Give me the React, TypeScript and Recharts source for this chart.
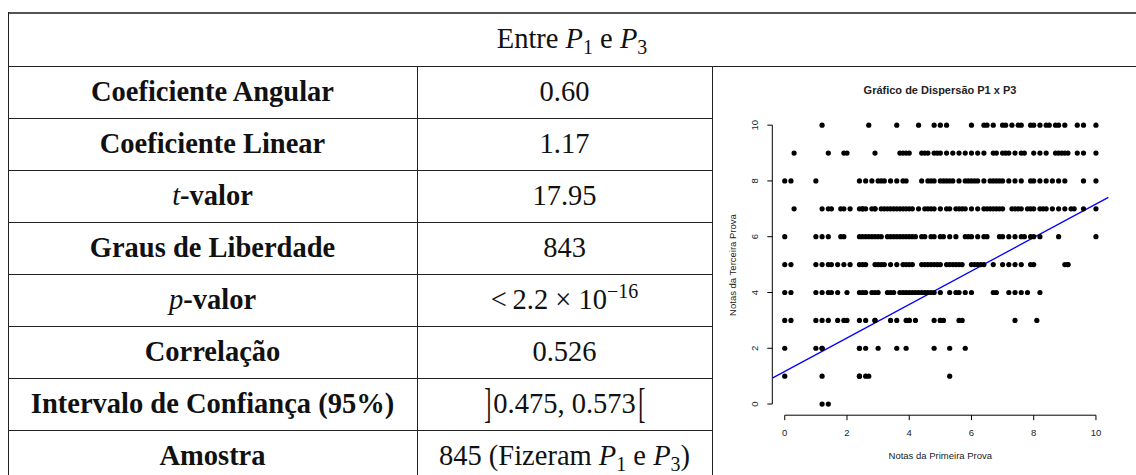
import React from "react";
import { ScatterChart, Scatter, XAxis, YAxis, ReferenceLine } from "recharts";

// ---------- Table data ----------
const headerText = "Entre P1 e P3";
const rowLabels = [
  "Coeficiente Angular",
  "Coeficiente Linear",
  "t-valor",
  "Graus de Liberdade",
  "p-valor",
  "Correlação",
  "Intervalo de Confiança (95%)",
  "Amostra",
];
const rowValues = [
  "0.60",
  "1.17",
  "17.95",
  "843",
  "< 2.2 × 10^-16",
  "0.526",
  "]0.475, 0.573[",
  "845 (Fizeram P1 e P3)",
];

// ---------- Regression ----------
const slope = 0.6;
const intercept = 1.17;

// ---------- Scatter data (P1 grades for each P3 grade level) ----------
const p3Levels = [10, 9, 8, 7, 6, 5, 4, 3, 2, 1, 0];
const p1At10 = [1.2, 2.7, 3.6, 4.3, 4.8, 5.0, 5.2, 6.0, 6.4, 6.5, 6.7, 7.0, 7.1, 7.3, 7.5, 7.6, 7.9, 8.0, 8.2, 8.4, 8.5, 8.7, 8.8, 9.0, 9.4, 9.6, 10];
const p1At9 = [0.3, 1.4, 1.9, 2.0, 2.9, 3.7, 3.8, 3.9, 4.0, 4.4, 4.5, 4.6, 4.8, 4.9, 5.0, 5.2, 5.4, 5.6, 5.8, 6.0, 6.2, 6.4, 6.7, 6.8, 7.0, 7.1, 7.2, 7.4, 7.6, 7.7, 8.0, 8.2, 8.4, 8.7, 8.8, 8.9, 9.0, 9.1, 9.4, 9.6, 10];
const p1At8 = [0, 0.2, 1.0, 2.4, 2.6, 2.8, 3.0, 3.1, 3.2, 3.4, 3.6, 3.8, 3.9, 4.4, 4.6, 4.7, 4.8, 5.0, 5.1, 5.2, 5.3, 5.4, 5.6, 5.8, 5.9, 6.0, 6.1, 6.2, 6.4, 6.6, 6.7, 6.8, 6.9, 7.0, 7.2, 7.4, 7.6, 7.9, 8.0, 8.2, 8.4, 8.6, 8.8, 9.0, 9.6, 10];
const p1At7 = [0.3, 1.2, 1.4, 1.5, 1.8, 1.9, 2.1, 2.4, 2.5, 2.5, 2.6, 2.8, 2.9, 2.9, 3.1, 3.2, 3.3, 3.4, 3.5, 3.6, 3.7, 3.8, 3.9, 4.0, 4.1, 4.3, 4.5, 4.6, 4.7, 4.8, 5.0, 5.2, 5.3, 5.5, 5.6, 5.7, 5.8, 6.0, 6.2, 6.4, 6.5, 6.6, 6.7, 6.8, 6.9, 7.0, 7.3, 7.4, 7.5, 7.6, 7.8, 7.9, 8.0, 8.2, 8.3, 8.4, 8.6, 8.8, 9.0, 9.2, 9.3, 9.6, 10];
const p1At6 = [0, 1.0, 1.2, 1.4, 1.8, 1.9, 2.4, 2.5, 2.6, 2.7, 2.8, 2.9, 3.0, 3.1, 3.3, 3.4, 3.5, 3.6, 3.7, 3.8, 3.9, 4.0, 4.1, 4.2, 4.4, 4.5, 4.7, 4.8, 5.0, 5.1, 5.3, 5.5, 5.8, 5.9, 6.0, 6.2, 6.4, 6.5, 6.9, 7.0, 7.2, 7.4, 7.6, 7.7, 7.9, 8.0, 8.2, 8.8, 10];
const p1At5 = [0, 0.2, 1.0, 1.2, 1.4, 1.5, 1.7, 1.9, 2.1, 2.4, 2.5, 2.6, 2.9, 3.0, 3.1, 3.2, 3.4, 3.6, 3.8, 3.9, 4.0, 4.1, 4.4, 4.5, 4.6, 4.7, 4.8, 4.9, 5.0, 5.2, 5.3, 5.4, 5.5, 5.6, 5.7, 6.0, 6.1, 6.2, 6.3, 6.4, 6.7, 7.0, 7.2, 7.4, 7.6, 7.9, 8.0, 9.0, 9.1, 9.1];
const p1At4 = [0, 0.2, 1.0, 1.2, 1.4, 1.5, 1.7, 2.0, 2.4, 2.5, 2.6, 2.8, 2.9, 3.0, 3.3, 3.4, 3.5, 3.7, 3.8, 3.9, 4.0, 4.1, 4.2, 4.3, 4.4, 4.5, 4.6, 4.7, 4.8, 5.0, 5.3, 5.5, 5.6, 5.8, 6.0, 6.7, 6.8, 7.2, 7.4, 7.6, 7.8, 8.2];
const p1At3 = [0, 0.2, 1.0, 1.2, 1.4, 1.7, 1.9, 2.0, 2.4, 2.6, 2.9, 2.9, 3.4, 3.6, 3.9, 4.0, 4.0, 4.2, 4.8, 5.0, 5.0, 5.1, 5.6, 5.7, 7.4, 8.1];
const p1At2 = [0, 1.0, 1.2, 1.2, 2.4, 2.4, 2.6, 3.0, 3.6, 3.9, 4.8, 5.3, 5.8];
const p1At1 = [0, 1.2, 2.4, 2.4, 2.6, 2.7, 5.3];
const p1At0 = [1.2, 1.4];
const p1ByLevel = [p1At10, p1At9, p1At8, p1At7, p1At6, p1At5, p1At4, p1At3, p1At2, p1At1, p1At0];

const axisTicks = [0, 2, 4, 6, 8, 10];
const axisDomain: [number, number] = [-0.4, 10.4];

const chartTitle = "Gráfico de Dispersão P1 x P3";
const xTitle = "Notas da Primeira Prova";
const yTitle = "Notas da Terceira Prova";

const points = p3Levels.flatMap((lvl, i) => p1ByLevel[i].map((x) => ({ x, y: lvl })));

// ---------- Layout ----------
const serif = "'Liberation Serif', 'Times New Roman', serif";
const sans = "'Liberation Sans', Arial, sans-serif";
const tableLeft = 8;
const tableTop = 12;
const headerBottom = 66;
const rowH = 52;
const col1 = 417;
const col2 = 712;
const pageW = 1136;
const pageH = 475;
const fs = 28.5;
const lineColor = "#222";

const Sub = ({ c }: { c: string }) => (
  <span style={{ fontSize: "0.7em", position: "relative", top: "0.3em" }}>{c}</span>
);
const Sup = ({ c }: { c: string }) => (
  <span style={{ fontSize: "0.7em", position: "relative", top: "-0.55em" }}>{c}</span>
);

function renderHeader() {
  const parts = headerText.split(" "); // Entre P1 e P3
  return (
    <span>
      {parts[0] + " "}
      <i>P</i>
      <Sub c={parts[1].slice(1)} />
      {" " + parts[2] + " "}
      <i>P</i>
      <Sub c={parts[3].slice(1)} />
    </span>
  );
}

function renderLabel(i: number) {
  const s = rowLabels[i];
  if (s.startsWith("t-") || s.startsWith("p-")) {
    return (
      <span>
        <i style={{ fontWeight: 400 }}>{s[0]}</i>
        {s.slice(1)}
      </span>
    );
  }
  return <span>{s}</span>;
}

function renderValue(i: number) {
  const s = rowValues[i];
  if (s.includes("^")) {
    const [base, exp] = s.split("^");
    return (
      <span>
        {base.replace("< ", "<\u2009")}
        <Sup c={exp.replace("-", "\u2212")} />
      </span>
    );
  }
  if (s.startsWith("]")) {
    const inner = s.slice(1, -1);
    const br = (c: string) => (
      <span
        style={{
          display: "inline-block",
          transform: "scale(0.75, 1.45)",
          fontWeight: 300,
          margin: "0 1px",
        }}
      >
        {c}
      </span>
    );
    return (
      <span>
        {br("]")}
        {inner}
        {br("[")}
      </span>
    );
  }
  if (s.includes("Fizeram")) {
    return (
      <span>
        {"845 (Fizeram "}
        <i>P</i>
        <Sub c="1" />
        {" e "}
        <i>P</i>
        <Sub c="3" />
        {")"}
      </span>
    );
  }
  return <span>{s}</span>;
}

const hLine = (y: number, x1: number, x2: number, key: string, color = lineColor, h = 1) => (
  <div
    key={key}
    style={{ position: "absolute", left: x1, top: y, width: x2 - x1, height: h, background: color }}
  />
);
const vLine = (x: number, y1: number, y2: number, key: string) => (
  <div
    key={key}
    style={{ position: "absolute", left: x, top: y1, width: 1, height: y2 - y1, background: lineColor }}
  />
);

const cellStyle = (left: number, top: number, width: number, height: number, bold: boolean): React.CSSProperties => ({
  position: "absolute",
  left,
  top,
  width,
  height,
  display: "flex",
  alignItems: "center",
  justifyContent: "center",
  whiteSpace: "pre",
  fontFamily: serif,
  fontSize: fs,
  fontWeight: bold ? 700 : 400,
  color: "#111",
  lineHeight: 1,
});

// ---------- Chart geometry ----------
const chartLeft = col2;
const chartTop = headerBottom;
const chartW = pageW - col2;
const chartH = pageH - headerBottom;

const YTick = (props: any) => {
  const { x, y, payload } = props;
  return (
    <text
      x={x}
      y={y}
      transform={`rotate(-90, ${x}, ${y})`}
      textAnchor="middle"
      fontFamily={sans}
      fontSize={9.5}
      fill="#222"
    >
      {payload.value}
    </text>
  );
};

const Dot = (props: any) => <circle cx={props.cx} cy={props.cy} r={2.6} fill="#000" />;

export default function App() {
  const lines: React.ReactNode[] = [];
  lines.push(hLine(tableTop, tableLeft, pageW, "top", "#555", 1.5));
  lines.push(hLine(headerBottom, tableLeft, pageW, "hdr"));
  for (let i = 1; i < rowLabels.length; i++) {
    lines.push(hLine(headerBottom + i * rowH, tableLeft, col2, "r" + i));
  }
  lines.push(vLine(tableLeft, tableTop, pageH, "left"));
  lines.push(vLine(col1, headerBottom, pageH, "c1"));
  lines.push(vLine(col2, headerBottom, pageH, "c2"));

  const x0 = axisDomain[0];
  const x1 = axisDomain[1];

  return (
    <div
      style={{
        position: "fixed",
        left: 0,
        top: 0,
        width: pageW,
        height: pageH,
        overflow: "hidden",
        background: "#fff",
      }}
    >
      {lines}
      <div style={cellStyle(tableLeft, tableTop, pageW - tableLeft, headerBottom - tableTop, false)}>
        {renderHeader()}
      </div>
      {rowLabels.map((_, i) => (
        <div key={"l" + i} style={cellStyle(tableLeft, headerBottom + i * rowH, col1 - tableLeft, rowH, true)}>
          {renderLabel(i)}
        </div>
      ))}
      {rowValues.map((_, i) => (
        <div key={"v" + i} style={cellStyle(col1, headerBottom + i * rowH, col2 - col1, rowH, false)}>
          {renderValue(i)}
        </div>
      ))}

      {/* Scatter plot */}
      <div style={{ position: "absolute", left: chartLeft, top: chartTop, width: chartW, height: chartH }}>
        <ScatterChart
          width={chartW}
          height={chartH}
          margin={{ top: 48, right: 27.6, bottom: 29.8, left: 30.3 }}
        >
          <XAxis
            type="number"
            dataKey="x"
            domain={axisDomain}
            ticks={axisTicks}
            allowDataOverflow
            axisLine={false}
            tickLine={{ stroke: "#000" }}
            stroke="#000"
            tickSize={5}
            tickMargin={9}
            height={30}
            tick={{ fontFamily: sans, fontSize: 9.5, fill: "#222" }}
            interval={0}
          />
          <YAxis
            type="number"
            dataKey="y"
            domain={axisDomain}
            ticks={axisTicks}
            allowDataOverflow
            axisLine={false}
            tickLine={{ stroke: "#000" }}
            stroke="#000"
            tickSize={5}
            tickMargin={9}
            width={30}
            tick={<YTick />}
            interval={0}
          />
          <Scatter data={points} shape={<Dot />} isAnimationActive={false} />
          <ReferenceLine
            segment={[
              { x: axisTicks[0], y: x0 },
              { x: axisTicks[axisTicks.length - 1], y: x0 },
            ]}
            stroke="#000"
            strokeWidth={1}
            ifOverflow="visible"
          />
          <ReferenceLine
            segment={[
              { x: x0, y: axisTicks[0] },
              { x: x0, y: axisTicks[axisTicks.length - 1] },
            ]}
            stroke="#000"
            strokeWidth={1}
            ifOverflow="visible"
          />
          <ReferenceLine
            segment={[
              { x: x0, y: intercept + slope * x0 },
              { x: x1, y: intercept + slope * x1 },
            ]}
            stroke="#0000ff"
            strokeWidth={1.3}
            ifOverflow="visible"
          />
        </ScatterChart>
        <div
          style={{
            position: "absolute",
            left: 228,
            top: 24,
            transform: "translate(-50%, -50%)",
            whiteSpace: "nowrap",
            fontFamily: sans,
            fontWeight: 700,
            fontSize: 11,
            color: "#222",
          }}
        >
          {chartTitle}
        </div>
        <div
          style={{
            position: "absolute",
            left: 228.3,
            top: 389,
            transform: "translate(-50%, -50%)",
            whiteSpace: "nowrap",
            fontFamily: sans,
            fontSize: 9.5,
            color: "#222",
          }}
        >
          {xTitle}
        </div>
        <div
          style={{
            position: "absolute",
            left: 20,
            top: 198.5,
            transform: "translate(-50%, -50%) rotate(-90deg)",
            whiteSpace: "nowrap",
            fontFamily: sans,
            fontSize: 9.5,
            color: "#222",
          }}
        >
          {yTitle}
        </div>
      </div>
    </div>
  );
}
